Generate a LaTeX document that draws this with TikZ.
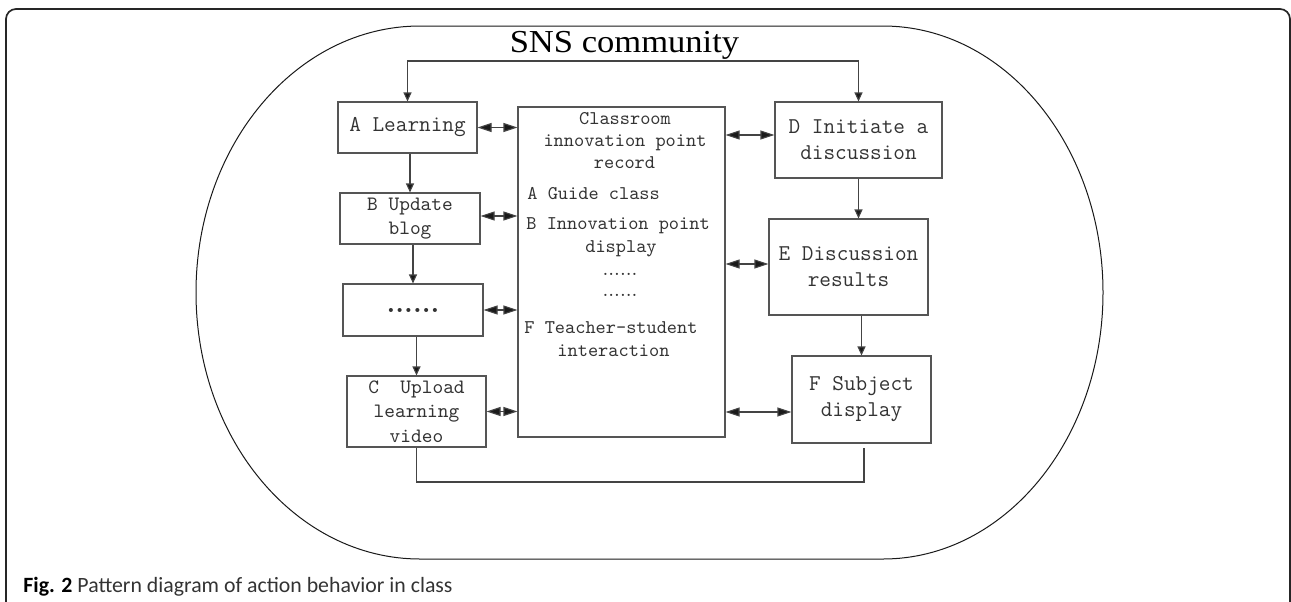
\documentclass[tikz,border=0pt]{standalone}
\usepackage{fontspec}
\usetikzlibrary{arrows.meta,calc}
\newfontfamily\titlefont[FakeStretch=1.08]{Liberation Serif}
\newfontfamily\capfont{Carlito}
\definecolor{boxline}{HTML}{555555}
\definecolor{conn}{HTML}{444444}
\definecolor{tipc}{HTML}{1A1A1A}
\definecolor{txt}{HTML}{333333}
\begin{document}
\begin{tikzpicture}[x=0.5pt,y=-0.5pt,
  box/.style={draw=boxline, line width=0.55pt, inner sep=0pt, align=center, text=txt},
  bigtxt/.style={font=\ttfamily\fontsize{11.3}{13}\selectfont},
  midtxt/.style={font=\ttfamily\fontsize{10.2}{12.3}\selectfont},
  ctxt/.style={font=\ttfamily\fontsize{9.7}{11}\selectfont, text=txt, inner sep=0pt, anchor=base},
  cleft/.style={ctxt, anchor=base west},
  cdots/.style={font=\fontsize{10.4}{11}\selectfont, text=txt, inner sep=0pt, anchor=base},
  dbl/.style={draw=conn, line width=0.55pt, {Triangle[length=7pt,width=4.5pt,fill=tipc]}-{Triangle[length=7pt,width=4.5pt,fill=tipc]}},
  dn/.style={draw=conn, line width=0.55pt, -{Triangle[length=4.5pt,width=4pt,fill=tipc]}},
  dnboth/.style={draw=conn, line width=0.55pt, {Triangle[length=4.5pt,width=4pt,fill=tipc]}-{Triangle[length=4.5pt,width=4pt,fill=tipc]}},
  plain/.style={draw=conn, line width=0.55pt}
]
\useasboundingbox (0,0) rectangle (1291,601);
\begin{scope}
\clip (0,0) rectangle (1291,601);
\draw[line width=0.85pt, draw=black!85, rounded corners=5pt] (6,9) rectangle (1290,700);
\end{scope}

% community oval
\draw[line width=0.5pt, draw=black!90] (420,26) -- (883,26)
  .. controls (1004.5,26) and (1103,145.3) .. (1103,292.5)
  .. controls (1103,439.7) and (1004.5,559) .. (883,559) -- (420,559)
  .. controls (296.3,559) and (196,439.7) .. (196,292.5)
  .. controls (196,145.3) and (296.3,26) .. (420,26) -- cycle;

\node[font=\titlefont\fontsize{16}{18}\selectfont, inner sep=0pt, anchor=base] (title) at (624.5,52) {SNS community};

% left column
\node[box,bigtxt,minimum width=69.5pt,minimum height=25.5pt] (A) at (407.5,127.5) {A Learning};
\node[box,midtxt,minimum width=70pt,minimum height=25.5pt] (B) at (410,218.5) {B Update\\blog};
\node[box,font=\bfseries\fontsize{14}{16}\selectfont,minimum width=70pt,minimum height=26pt] (Dots) at (413,310) {......};
\node[box,midtxt,minimum width=69.5pt,minimum height=35.5pt] (C) at (416.5,411.5) {C\ \ Upload\\learning\\video};

% middle box
\node[box,minimum width=103.5pt,minimum height=165pt] (M) at (621.5,272) {};
\node[ctxt] (m1) at (625,124) {Classroom};
\node[ctxt] (m2) at (625,146) {innovation point};
\node[ctxt] (m3) at (624.5,168) {record};
\node[cleft] (m4) at (527,199) {A Guide class};
\node[cleft] (m5) at (526,229) {B Innovation point};
\node[ctxt] (m6) at (621,252) {display};
\node[cdots] (m7) at (620,275) {......};
\node[cdots] (m8) at (620,296) {......};
\node[cleft] (m9) at (524,333) {F Teacher-student};
\node[ctxt] (m10) at (613.5,356) {interaction};

% right column
\node[box,bigtxt,minimum width=83.5pt,minimum height=38pt] (D) at (858.5,140) {D Initiate a\\discussion};
\node[box,bigtxt,minimum width=79.5pt,minimum height=48pt] (E) at (848.5,267) {E Discussion\\results};
\node[box,bigtxt,minimum width=69.5pt,minimum height=43.5pt] (F) at (861.5,399.5) {F Subject\\display};

% vertical arrows
\draw[dn] (B.north |- A.south) -- (B.north);
\draw[dn] (Dots.north |- B.south) -- (Dots.north);
\draw[dn] (C.north |- Dots.south) -- (C.north);
\draw[dn] (D.south) -- (D.south |- E.north);
\draw[dn] (F.north |- E.south) -- (F.north);

% top loop
\coordinate (tc) at (633,61);
\draw[dnboth] (A.north) |- (tc) -| (D.north);

% bottom line
\coordinate (bc) at (640,482);
\coordinate (fb) at ([xshift=1.25pt,yshift=-2pt]F.south);
\draw[plain] (C.south) |- (bc) -| (fb);

% horizontal double arrows
\coordinate (b1) at ([yshift=1.25pt]B.east);
\coordinate (d1) at ([yshift=2.5pt]D.west);
\coordinate (e1) at ([yshift=1.5pt]E.west);
\coordinate (f1) at ([yshift=-6.25pt]F.west);
\draw[dbl] (A.east) -- (A.east -| M.west);
\draw[dbl] (b1) -- (b1 -| M.west);
\draw[dbl] (Dots.east) -- (Dots.east -| M.west);
\draw[dbl] (C.east) -- (C.east -| M.west);
\draw[dbl] (d1 -| M.east) -- (d1);
\draw[dbl] (e1 -| M.east) -- (e1);
\draw[dbl] (f1 -| M.east) -- (f1);

% caption
\node[anchor=base west, font=\capfont\fontsize{10.9}{12}\selectfont, text=txt, inner sep=0pt] (cap) at (23,592) {{\color{black}\textbf{Fig. 2}} Pattern diagram of action behavior in class};
\end{tikzpicture}
\end{document}
